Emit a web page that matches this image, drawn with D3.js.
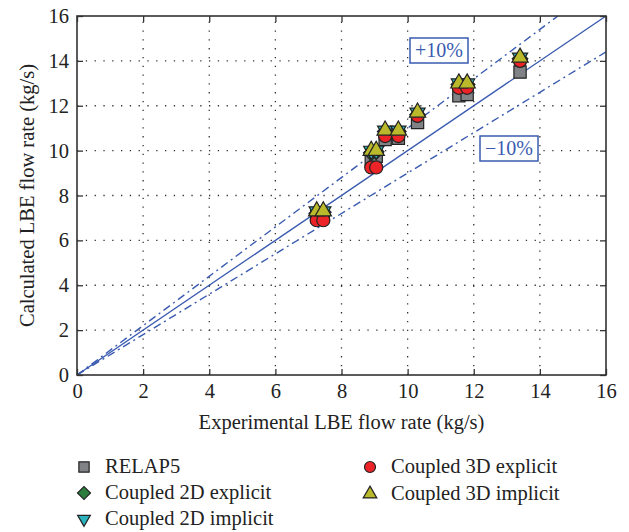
<!DOCTYPE html>
<html>
<head>
<meta charset="utf-8">
<script src="https://cdn.jsdelivr.net/npm/d3@7"></script>
<style>
  body { margin: 0; background: #fff; }
  text { font-family: "Liberation Serif", "DejaVu Serif", serif; fill: #222; }
</style>
</head>
<body>
<svg id="chart" width="629" height="532"></svg>
<script>
// experimental flow rates (kg/s)
const experimental = [7.25, 7.45, 8.9, 9.05, 9.32, 9.72, 10.3, 11.55, 11.8, 13.4];
// calculated flow rates per model
const relap5     = [7.05, 7.1, 9.6, 9.75, 10.5, 10.55, 11.25, 12.45, 12.5, 13.5];
const coupled2DEx = [7.2, 7.25, 9.9, 9.95, 10.85, 10.85, 11.6, 12.95, 12.95, 14.1];
const coupled2DIm = [7.3, 7.3, 10.0, 10.0, 10.9, 10.9, 11.7, 13.0, 13.0, 14.15];
const coupled3DEx = [6.9, 6.9, 9.25, 9.25, 10.65, 10.65, 11.55, 12.8, 12.8, 14.0];
const coupled3DIm = [7.3, 7.3, 10.0, 10.0, 10.9, 10.9, 11.7, 13.0, 13.0, 14.15];
const ticks = [0, 2, 4, 6, 8, 10, 12, 14, 16];

const series = [
  { name: 'RELAP5', values: relap5, shape: d3.symbolSquare, size: 150, fill: '#808285' },
  { name: 'Coupled 2D explicit', values: coupled2DEx, shape: d3.symbolSquare, size: 120, fill: '#2d7d3f', rotate: 45 },
  { name: 'Coupled 2D implicit', values: coupled2DIm, shape: d3.symbolTriangle, size: 100, fill: '#2ab3bd', rotate: 180 },
  { name: 'Coupled 3D explicit', values: coupled3DEx, shape: d3.symbolCircle, size: 135, fill: '#ec2428' },
  { name: 'Coupled 3D implicit', values: coupled3DIm, shape: d3.symbolTriangle, size: 115, fill: '#b9b92b' }
];

const svg = d3.select('#chart');
const x = d3.scaleLinear().domain([0, 16]).range([77, 606]);
const y = d3.scaleLinear().domain([0, 16]).range([375, 16]);
const blue = '#3a5bb0';
const fontSize = '20.5px';

// dotted grid
const grid = svg.append('g');
ticks.slice(1, -1).forEach(t => {
  grid.append('line').attr('x1', x(t)).attr('x2', x(t)).attr('y1', y(0)).attr('y2', y(16))
    .attr('stroke', '#333').attr('stroke-width', 1.3).attr('stroke-dasharray', '1.3,7.5');
  grid.append('line').attr('x1', x(0)).attr('x2', x(16)).attr('y1', y(t)).attr('y2', y(t))
    .attr('stroke', '#333').attr('stroke-width', 1.3).attr('stroke-dasharray', '1.3,7.5');
});

// reference lines
const ref = [
  { k: 1.0, dash: null },
  { k: 1.1, dash: '8,4,2,4' },
  { k: 0.9, dash: '8,4,2,4' }
];
ref.forEach(r => {
  const xEnd = Math.min(16, 16 / r.k);
  svg.append('line')
    .attr('x1', x(0)).attr('y1', y(0))
    .attr('x2', x(xEnd)).attr('y2', y(xEnd * r.k))
    .attr('stroke', blue).attr('stroke-width', 1.4)
    .attr('stroke-dasharray', r.dash);
});

// axes with inward ticks
const axisStyle = g => {
  g.select('.domain').remove();
  g.selectAll('.tick line').attr('stroke', '#333').attr('stroke-width', 1.3);
  g.selectAll('.tick text').style('font-size', fontSize).style('font-family', '"Liberation Serif", serif').attr('fill', '#222');
};
svg.append('g').attr('transform', `translate(0,${y(0)})`)
  .call(d3.axisBottom(x).tickValues(ticks).tickSize(-6).tickPadding(8).tickFormat(d3.format('d')))
  .call(axisStyle);
svg.append('g').attr('transform', `translate(${x(0)},0)`)
  .call(d3.axisLeft(y).tickValues(ticks).tickSize(-6).tickPadding(8).tickFormat(d3.format('d')))
  .call(axisStyle);
svg.append('g').attr('transform', `translate(0,${y(16)})`)
  .call(d3.axisTop(x).tickValues(ticks).tickSize(-6).tickFormat(''))
  .call(axisStyle);
svg.append('g').attr('transform', `translate(${x(16)},0)`)
  .call(d3.axisRight(y).tickValues(ticks).tickSize(-6).tickFormat(''))
  .call(axisStyle);

svg.append('rect').attr('x', x(0)).attr('y', y(16))
  .attr('width', x(16) - x(0)).attr('height', y(0) - y(16))
  .attr('fill', 'none').attr('stroke', '#333').attr('stroke-width', 1.6);

// axis titles
svg.append('text').attr('x', (x(0) + x(16)) / 2).attr('y', 429)
  .attr('text-anchor', 'middle').style('font-size', fontSize)
  .text('Experimental LBE flow rate (kg/s)');
svg.append('text').attr('transform', `translate(34,${(y(0) + y(16)) / 2}) rotate(-90)`)
  .attr('text-anchor', 'middle').style('font-size', fontSize)
  .text('Calculated LBE flow rate (kg/s)');

// markers
series.forEach(s => {
  const sym = d3.symbol().type(s.shape).size(s.size);
  svg.append('g').selectAll('path').data(s.values).join('path')
    .attr('d', sym)
    .attr('transform', (v, i) => `translate(${x(experimental[i])},${y(v)})` + (s.rotate ? ` rotate(${s.rotate})` : ''))
    .attr('fill', s.fill).attr('stroke', '#222').attr('stroke-width', 1.2);
});

// percentage labels
const boxLabel = (cx, cy, txt) => {
  const g = svg.append('g');
  g.append('rect').attr('x', cx - 29).attr('y', cy - 12).attr('width', 58).attr('height', 25)
    .attr('fill', '#fff').attr('stroke', blue).attr('stroke-width', 1.5);
  g.append('text').attr('x', cx).attr('y', cy + 7).attr('text-anchor', 'middle')
    .style('font-size', '20px').style('fill', blue).text(txt);
};
boxLabel(439, 50, '+10%');
boxLabel(509, 148, '\u221210%');

// legend
const legendPos = [
  { x: 84, y: 467 }, { x: 84, y: 493 }, { x: 84, y: 519 },
  { x: 370, y: 467 }, { x: 370, y: 494 }
];
series.forEach((s, i) => {
  const p = legendPos[i];
  const sym = d3.symbol().type(s.shape).size(s.size * 0.7);
  svg.append('path').attr('d', sym)
    .attr('transform', `translate(${p.x},${p.y})` + (s.rotate ? ` rotate(${s.rotate})` : ''))
    .attr('fill', s.fill).attr('stroke', '#222').attr('stroke-width', 1.2);
  svg.append('text').attr('x', p.x + 21).attr('y', p.y + 6)
    .style('font-size', fontSize).text(s.name);
});
</script>
</body>
</html>
